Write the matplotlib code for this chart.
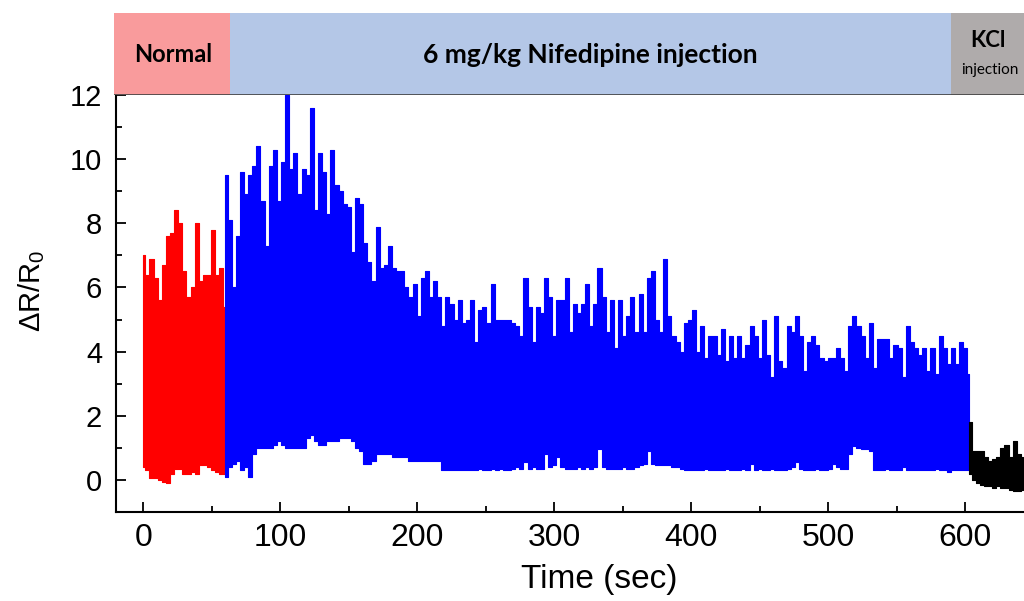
"""Nifedipine response trace: dR/R0 vs time with phase banners."""
import numpy as np
import matplotlib
matplotlib.use("Agg")
import matplotlib.pyplot as plt
from matplotlib.ticker import MultipleLocator

plt.rcParams["font.family"] = ["Liberation Sans", "DejaVu Sans"]
plt.rcParams["mathtext.fontset"] = "custom"
plt.rcParams["mathtext.rm"] = "Liberation Sans"
plt.rcParams["mathtext.it"] = "Liberation Sans:italic"

# ---- signal envelopes (3 s grid) ----
red_t = np.r_[np.arange(0, 58, 3), 59.8]
red_hi = [7.0, 6.4, 6.9, 6.3, 5.6, 6.7, 7.6, 7.7, 8.4, 8.0,
          6.5, 5.7, 6.0, 8.0, 6.2, 6.4, 6.4, 7.8, 6.4, 6.6, 5.4]
red_lo = [0.4, 0.3, 0.05, 0.05, 0.0, -0.05, -0.1, 0.2, 0.35, 0.35,
          0.2, 0.2, 0.25, 0.2, 0.45, 0.45, 0.4, 0.3, 0.25, 0.2, 0.2]

blue_t = np.r_[59.6, np.arange(60, 604, 3)]
blue_hi = [5.4,
           9.5, 8.1, 6.0, 7.6, 9.6, 8.9, 9.5, 9.8, 10.4, 8.7,
           7.3, 9.8, 10.3, 8.7, 9.9, 12.0, 9.7, 10.2, 8.9, 9.7,
           9.5, 11.6, 8.4, 10.2, 9.6, 8.3, 10.3, 9.2, 9.0, 8.6,
           8.5, 7.1, 8.8, 8.6, 7.4, 6.8, 6.2, 7.9, 6.6, 6.7,
           7.3, 6.6, 6.5, 6.5, 6.0, 5.7, 6.1, 5.1, 6.3, 6.5,
           5.7, 6.2, 5.7, 4.8, 5.7, 5.5, 5.0, 5.6, 4.9, 5.0,
           5.6, 4.3, 5.3, 5.4, 4.9, 6.1, 5.0, 5.0, 5.0, 5.0,
           4.9, 4.8, 4.5, 6.3, 5.4, 4.3, 5.4, 5.2, 6.3, 5.7,
           4.5, 5.6, 5.6, 6.3, 4.6, 5.5, 5.2, 5.5, 6.1, 4.8,
           5.5, 6.6, 5.7, 4.6, 5.6, 4.1, 5.6, 4.5, 5.1, 5.7,
           4.6, 5.8, 4.6, 6.3, 6.5, 5.0, 4.6, 6.9, 5.1, 4.5,
           4.3, 4.0, 4.9, 5.0, 5.3, 4.0, 4.8, 3.8, 4.5, 4.5,
           3.9, 4.7, 3.7, 4.5, 3.8, 4.5, 3.8, 4.2, 4.8, 4.5,
           3.8, 5.0, 3.9, 3.2, 5.1, 3.7, 3.5, 4.8, 4.6, 5.1,
           4.5, 3.4, 4.3, 4.5, 4.2, 3.8, 3.7, 3.8, 3.8, 4.1,
           3.8, 3.4, 4.8, 5.1, 4.8, 4.5, 3.8, 4.9, 3.5, 4.4,
           4.4, 4.4, 3.8, 4.2, 4.1, 3.2, 4.8, 4.3, 4.1, 3.9,
           4.1, 3.4, 4.1, 3.3, 4.5, 4.1, 3.6, 4.1, 3.6, 4.3,
           4.1, 3.3]
blue_lo = [0.1,
           0.1, 0.4, 0.5, 0.6, 0.3, 0.4, 0.1, 0.8, 1.0, 1.0,
           1.0, 1.0, 1.1, 1.2, 1.1, 1.0, 1.0, 1.0, 1.0, 1.0,
           1.3, 1.4, 1.2, 1.1, 1.1, 1.2, 1.2, 1.2, 1.3, 1.3,
           1.3, 1.2, 1.0, 0.9, 0.5, 0.5, 0.6, 0.8, 0.8, 0.8,
           0.8, 0.7, 0.7, 0.7, 0.7, 0.6, 0.6, 0.6, 0.6, 0.6,
           0.6, 0.6, 0.6, 0.3, 0.3, 0.3, 0.3, 0.3, 0.3, 0.3,
           0.3, 0.3, 0.35, 0.3, 0.3, 0.35, 0.3, 0.35, 0.3, 0.3,
           0.35, 0.4, 0.35, 0.55, 0.35, 0.4, 0.35, 0.35, 0.8, 0.4,
           0.45, 0.7, 0.4, 0.35, 0.35, 0.35, 0.4, 0.35, 0.4, 0.35,
           0.4, 0.95, 0.4, 0.35, 0.35, 0.35, 0.35, 0.4, 0.35, 0.35,
           0.4, 0.45, 0.5, 0.9, 0.5, 0.45, 0.45, 0.45, 0.45, 0.4,
           0.4, 0.35, 0.3, 0.3, 0.3, 0.3, 0.3, 0.35, 0.3, 0.3,
           0.3, 0.3, 0.35, 0.3, 0.3, 0.3, 0.35, 0.3, 0.5, 0.3,
           0.35, 0.3, 0.3, 0.35, 0.3, 0.3, 0.3, 0.35, 0.4, 0.55,
           0.35, 0.3, 0.3, 0.3, 0.35, 0.3, 0.3, 0.35, 0.5, 0.4,
           0.35, 0.35, 0.8, 1.05, 1.0, 0.95, 0.95, 0.9, 0.3, 0.3,
           0.3, 0.35, 0.3, 0.3, 0.3, 0.4, 0.3, 0.3, 0.3, 0.3,
           0.3, 0.3, 0.3, 0.35, 0.3, 0.3, 0.25, 0.3, 0.3, 0.3,
           0.3, 0.3]

black_t = np.arange(603, 643, 3)
black_hi = [1.8, 0.9, 0.9, 0.9, 0.7, 0.6, 0.65, 0.7, 1.0, 1.1, 0.7, 1.2, 0.8, 0.7]
black_lo = [0.2, 0.0, -0.1, -0.15, -0.2, -0.2, -0.25, -0.2, -0.25, -0.25,
            -0.3, -0.35, -0.35, -0.3]

# ---- phase banners ----
phase_names = ["Normal", "6 mg/kg Nifedipine injection", "KCl"]
phase_edges = [-21.4, 63.3, 590.0, 643.0]
phase_colors = ["#F99B9C", "#B4C7E7", "#AFABAB"]

fig = plt.figure(figsize=(10.24, 6.01), dpi=100)
ax = fig.add_axes([116 / 1024, 89 / 601, 908 / 1024, 417 / 601])

for t, hi, lo, c in [(red_t, red_hi, red_lo, "#FF0000"),
                     (blue_t, blue_hi, blue_lo, "#0000FF"),
                     (black_t, black_hi, black_lo, "#000000")]:
    ax.fill_between(t, lo, hi, step="mid", color=c, edgecolor=c, lw=0.8)

ax.set_xlim(-19.9, 642.8)
ax.set_ylim(-1, 12)
ax.xaxis.set_major_locator(MultipleLocator(100))
ax.xaxis.set_minor_locator(MultipleLocator(50))
ax.yaxis.set_major_locator(MultipleLocator(2))
ax.yaxis.set_minor_locator(MultipleLocator(1))
ax.tick_params(which="both", direction="in", width=1.3, top=False, right=False)
ax.tick_params(which="major", length=7)
ax.tick_params(which="minor", length=4)
ax.tick_params(axis="y", labelsize=21, pad=10)
ax.tick_params(axis="x", labelsize=23, pad=8)
for s in ["top", "right"]:
    ax.spines[s].set_visible(False)
for s in ["left", "bottom"]:
    ax.spines[s].set_linewidth(1.5)

ax.set_xlabel("Time (sec)", fontsize=24)
ax.xaxis.set_label_coords(0.532, -0.125)
ax.set_ylabel("\u0394R/R$_0$", fontsize=21)
ax.yaxis.set_label_coords(-0.076, 0.53)

# banner strip above the plot
bax = fig.add_axes([114 / 1024, 506 / 601, 910 / 1024, 82 / 601])
bax.set_xlim(phase_edges[0], phase_edges[-1])
bax.set_ylim(0, 1)
bax.axis("off")
for i, (name, c) in enumerate(zip(phase_names, phase_colors)):
    bax.axvspan(phase_edges[i], phase_edges[i + 1], color=c, lw=0)
bax.axhline(0, color="#404040", lw=1.2)
bfont = ["Lato", "DejaVu Sans"]
bax.text(21.7, 0.49, phase_names[0], ha="center", va="center", fontsize=17,
         fontweight="bold", family=bfont)
bax.text(326, 0.49, phase_names[1], ha="center", va="center", fontsize=19,
         fontweight="bold", family=bfont)
bax.text(616.6, 0.66, phase_names[2], ha="center", va="center", fontsize=16,
         fontweight="bold", family=bfont)
bax.text(618, 0.31, "injection", ha="center", va="center", fontsize=11,
         family=bfont)

fig.savefig("out.png", dpi=100)
